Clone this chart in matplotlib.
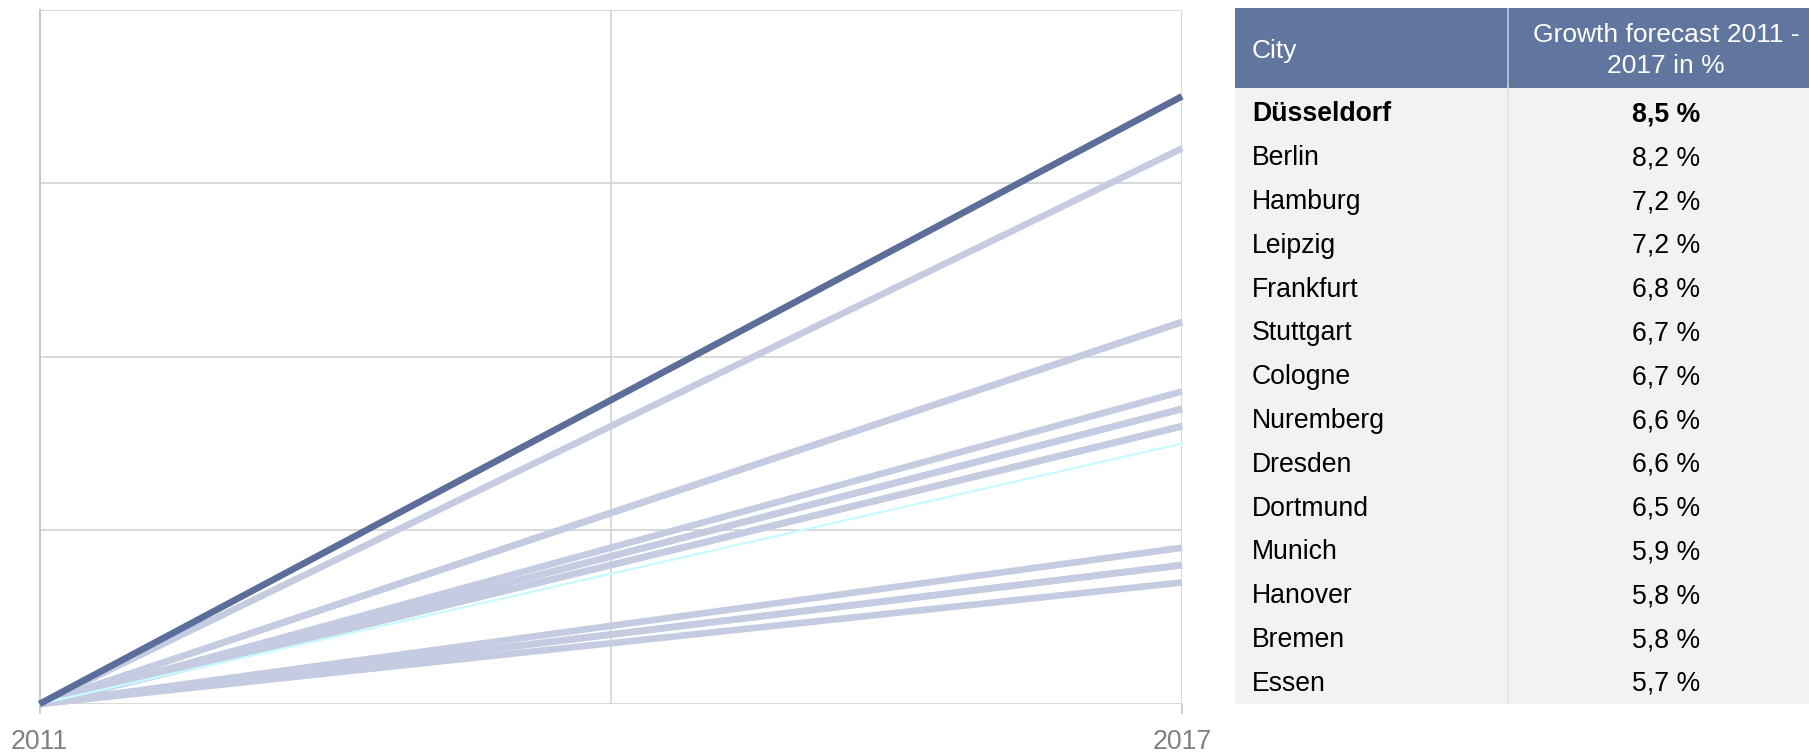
import matplotlib
matplotlib.use("Agg")
import matplotlib.pyplot as plt
from matplotlib.patches import Rectangle

plt.rcParams['font.family'] = ['Liberation Sans', 'DejaVu Sans']

cities = ["Düsseldorf", "Berlin", "Hamburg", "Leipzig", "Frankfurt", "Stuttgart",
          "Cologne", "Nuremberg", "Dresden", "Dortmund", "Munich", "Hanover",
          "Bremen", "Essen"]
growth = [8.5, 8.2, 7.2, 7.2, 6.8, 6.7, 6.7, 6.6, 6.6, 6.5, 5.9, 5.8, 5.8, 5.7]
years = [2011, 2017]
start_value = 5.0
header = ["City", "Growth forecast 2011 -", "2017 in %"]

W, H = 1809, 754
fig = plt.figure(figsize=(W / 100, H / 100), dpi=100)

# ---- line chart ----
L, R, T, B = 39.5, 1182, 9.5, 704
ax = fig.add_axes([L / W, 1 - B / H, (R - L) / W, (B - T) / H])
ax.set_xlim(2011, 2017)
ax.set_ylim(5, 9)
grid_c = "#d6d6d6"
ax.set_yticks([5, 6, 7, 8, 9])
ax.set_xticks([2011, 2014, 2017])
ax.grid(True, color=grid_c, linewidth=1.3, zorder=0)
for s in ["top", "right", "bottom"]:
    ax.spines[s].set_visible(False)
ax.spines["left"].set_color("#c8c8c8")
ax.spines["left"].set_linewidth(1.5)
ax.tick_params(axis="y", left=False, labelleft=False)
ax.set_xticklabels(["2011", "", "2017"])
ax.tick_params(axis="x", length=7, width=1.3, color="#c8c8c8", labelcolor="#808080",
               labelsize=19.3, pad=11)
ticks = ax.xaxis.get_major_ticks()
ticks[1].tick1line.set_visible(False)

light = "#c5cbe1"
dark = "#5b6e9a"
cyan = "#c8fbff"
for c, g in zip(cities, growth):
    if c in ("Düsseldorf", "Dortmund"):
        continue
    ax.plot(years, [start_value, g], color=light, linewidth=4.8, solid_capstyle="butt",
            zorder=2, clip_on=False)
for c, g in zip(cities, growth):
    if c == "Dortmund":
        ax.plot(years, [start_value, g], color=cyan, linewidth=1.6, zorder=3, clip_on=False)
for c, g in zip(cities, growth):
    if c == "Düsseldorf":
        ax.plot(years, [start_value, g], color=dark, linewidth=4.8, solid_capstyle="butt",
                zorder=4, clip_on=False)

# ---- table ----
TL, TR, TT, TB = 1235, W, 8, 704
tax = fig.add_axes([TL / W, 1 - TB / H, (TR - TL) / W, (TB - TT) / H])
tax.set_xlim(TL, TR)
tax.set_ylim(TB, TT)
tax.axis("off")
head_h = 80
row_h = 43.8
col_x = 1508
tax.add_patch(Rectangle((TL, TT), TR - TL, head_h, facecolor="#61769f", edgecolor="none"))
tax.add_patch(Rectangle((TL, TT + head_h), TR - TL, TB - TT - head_h,
                        facecolor="#f2f2f2", edgecolor="none"))
tax.plot([col_x, col_x], [TT, TT + head_h], color="#c0c8da", linewidth=1.2)
tax.plot([col_x, col_x], [TT + head_h, TB], color="#e2e2e2", linewidth=1.2)

text_x = 1252
val_x = 1666
tax.text(text_x, TT + 50, header[0], color="white", fontsize=19,
         ha="left", va="baseline")
tax.text(val_x, TT + 34, header[1], color="white", fontsize=19,
         ha="center", va="baseline")
tax.text(val_x, TT + 65, header[2], color="white", fontsize=19,
         ha="center", va="baseline")
for i, (c, g) in enumerate(zip(cities, growth)):
    base = TT + head_h + 33.5 + row_h * i
    w = "bold" if c == "Düsseldorf" else "normal"
    tax.text(text_x, base, c, color="black", fontsize=19.2, ha="left", va="baseline",
             fontweight=w)
    tax.text(val_x, base, f"{g:.1f} %".replace(".", ","), color="black",
             fontsize=19.2, ha="center", va="baseline", fontweight=w)

fig.savefig("out.png", dpi=100)
